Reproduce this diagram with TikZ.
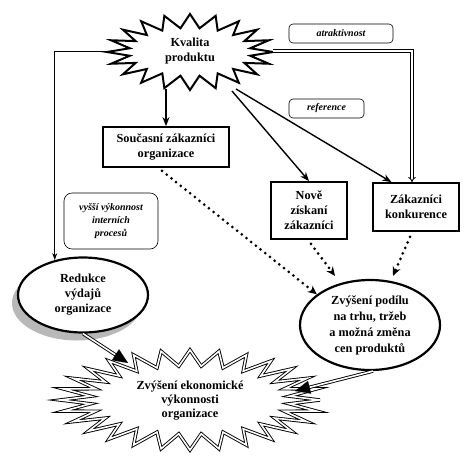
\documentclass[tikz,border=0pt]{standalone}
\usepackage{fontspec}
\setmainfont{Liberation Serif}
\usetikzlibrary{arrows.meta,shapes.geometric,shadows,calc}
\newcommand\mystar[8]{%
  \pgfmathsetmacro\mystarang{360/#8}%
  \draw[#1] ({#2+#4},{#3}) \foreach \i in {1,...,#8} { -- ({#2+#6*cos((\i-0.5)*\mystarang)},{#3+#7*sin((\i-0.5)*\mystarang)}) -- ({#2+#4*cos(\i*\mystarang)},{#3+#5*sin(\i*\mystarang)}) } -- cycle;}
\begin{document}
\begin{tikzpicture}[x=1pt,y=-1pt,
  txt/.style={font=\fontsize{12.3}{15}\selectfont\bfseries, align=center},
  box/.style={draw, line width=1.8pt, txt, inner sep=0, fill=white},
  lab/.style={draw, rounded corners=4pt, line width=0.6pt, font=\fontsize{10}{13}\selectfont\bfseries\itshape, align=center, inner sep=0},
  ell/.style={draw, ellipse, line width=2.2pt, fill=white, txt, inner sep=0},
  arr/.style={line width=1.4pt, -{Stealth[length=9pt,width=7pt]}},
  thinarr/.style={line width=0.9pt, -{Stealth[length=7pt,width=5pt]}},
  dots/.style={line width=3pt, line cap=round, dash pattern=on 0pt off 6pt, -{Stealth[length=9pt,width=8pt]}},
  dblline/.style={double=white, double distance=1.6pt, line width=0.9pt},
  bigtip/.style={line width=0.1pt, -{Triangle[length=15pt,width=13pt]}},
]
\useasboundingbox (0,0) rectangle (468,458);
\fill[white] (0,0) rectangle (468,458);
% stars
\mystar{line width=2pt, fill=white, line join=miter}{190}{52}{83}{38}{61}{24}{20}
\mystar{dblline, fill=white, line join=miter}{190}{400}{130}{50}{100}{34}{28}
% nodes
\node[ellipse, minimum width=166, minimum height=78, txt] (kval) at (190,51) {Kvalita\\produktu};
\node[ellipse, minimum width=200, minimum height=80, font=\fontsize{12.3}{14}\selectfont\bfseries, align=center] (ekon) at (190,401) {Zvýšení ekonomické\\výkonnosti\\organizace};
\node[lab, minimum width=104, minimum height=19] (atr) at (341,33.5) {atraktivnost};
\node[lab, minimum width=75, minimum height=19] (ref) at (326.5,108.5) {reference};
\node[box, minimum width=126, minimum height=40] (souc) at (166,147) {Současní zákazníci\\organizace};
\node[box, minimum width=76, minimum height=57] (nove) at (309,210.5) {Nově\\získaní\\zákazníci};
\node[box, minimum width=86, minimum height=48] (konk) at (416,207) {Zákazníci\\konkurence};
\node[lab, rounded corners=8pt, minimum width=94, minimum height=56] (vys) at (111,221) {vyšší výkonnost\\interních\\procesů};
\node[ell, minimum width=130, minimum height=75, drop shadow={shadow xshift=-6pt, shadow yshift=-8pt, fill=black!55}] (redu) at (83,295) {Redukce\\výdajů\\organizace};
\node[ell, minimum width=140, minimum height=90, font=\fontsize{12.3}{16}\selectfont\bfseries] (podil) at (370,325) {Zvýšení podílu\\na trhu, tržeb\\a možná změna\\cen produktů};
% connectors
\coordinate (k1) at (232,91);
\coordinate (k2) at (236,89);
\draw[thinarr] (kval.west) -| (redu.129);
\draw[dblline, -{Implies}] (kval.east) -| ($(konk.north)+(-4,0)$);
\draw[line width=2pt, -{Stealth[length=9pt,width=7pt]}] (kval.south -| souc.north) ++(0,-1) -- (souc.north);
\draw[arr] (k1) -- (nove.north);
\draw[arr] (k2) -- ($(konk.north west)!0.22!(konk.north east)$);
\draw[dots] ([xshift=-4pt]souc.south) ++(0,3) -- (podil.150);
\draw[dots] (nove.south) ++(2,4) -- ($(podil.north)+(-35,-3)$);
\draw[dots] ([xshift=-6pt]konk.south) ++(0,5) -- ($(podil.north)+(23,-3)$);
\coordinate (e1) at ($(ekon)+(-62,-38)$);
\coordinate (e2) at ($(ekon)+(105,-10)$);
\draw[dblline, shorten >=12pt] (redu.south) -- (e1);
\draw[bigtip] ($(e1)!14pt!(redu.south)$) -- (e1);
\draw[dblline, shorten >=12pt] ([xshift=3pt]podil.south) -- (e2);
\draw[bigtip] ($(e2)!14pt!([xshift=3pt]podil.south)$) -- (e2);
\end{tikzpicture}
\end{document}
